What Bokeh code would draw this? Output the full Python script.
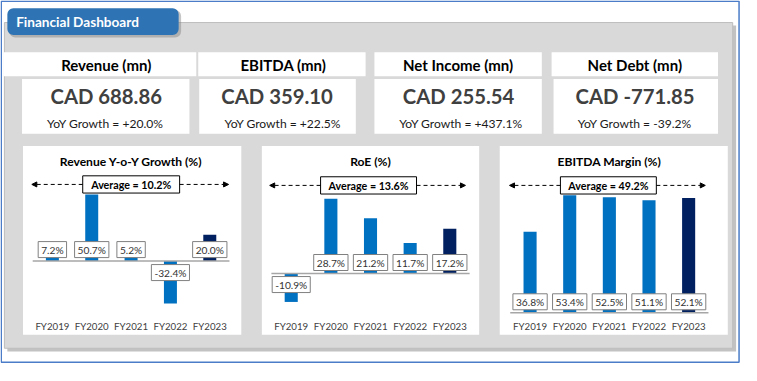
from bokeh.plotting import figure
from bokeh.models import Range1d, Arrow, NormalHead, ColumnDataSource
from bokeh.core.properties import value
from bokeh.embed import file_html
from bokeh.resources import INLINE

# ---------------- data ----------------
dashboard_title = "Financial Dashboard"
kpi_titles = ["Revenue (mn)", "EBITDA (mn)", "Net Income (mn)", "Net Debt (mn)"]
kpi_values = [688.86, 359.10, 255.54, -771.85]
kpi_growth = [20.0, 22.5, 437.1, -39.2]

years = ["FY2019", "FY2020", "FY2021", "FY2022", "FY2023"]
chart_titles = ["Revenue Y-o-Y Growth (%)", "RoE (%)", "EBITDA Margin (%)"]
revenue_growth = [7.2, 50.7, 5.2, -32.4, 20.0]
roe = [-10.9, 28.7, 21.2, 11.7, 17.2]
ebitda_margin = [36.8, 53.4, 52.5, 51.1, 52.1]
averages = [10.2, 13.6, 49.2]

# ---------------- layout (reference pixel space) ----------------
W_REF, H_REF = 757, 381
W, H = 741, 365
SX, SY = W / W_REF, H / H_REF
FS = (SX + SY) / 2
FONT = value("Lato")

def px(v):
    return f"{v * FS:.1f}px"

# KPI cards: header boxes, value boxes, text centres
hdr_l = [3, 202, 382, 563]
hdr_r = [200, 373, 553, 733]
val_l = [22, 203, 382, 565]
val_r = [193, 363, 553, 733]
hdr_tx = [108, 289, 467.5, 648]
val_tx = [108, 282.5, 468, 648.3]
yoy_tx = [107, 288.3, 470.3, 648]

# chart panels
pan_l = [23, 267, 510]
pan_r = [246, 489, 743]
pan_t, pan_b = 152, 349
title_cx = [133.5, 378, 622]
avg_l = [84, 327, 572]
avg_r = [183, 425, 670]
avg_y = [192, 193, 193]
arr_l = [32, 275, 520]
arr_r = [233, 475, 720]
zero_y = [272, 285, 326]
scale = [1.37, 2.72, 2.30]
cat_x0 = [53, 297, 541]
cat_dx = [40.2, 40.5, 40.5]
lab_off = [12, 11.5, 11.5]

BLUE, NAVY = "#0070C0", "#002060"

p = figure(width=W, height=H, x_range=Range1d(0, W_REF), y_range=Range1d(H_REF, 0),
           output_backend="svg", toolbar_location=None, min_border=0,
           x_axis_location=None, y_axis_location=None)
p.xgrid.visible = False
p.ygrid.visible = False
p.outline_line_color = None
p.background_fill_color = "white"
p.border_fill_color = "white"

# outer border
p.quad(left=[0.8], right=[754.5], top=[0.8], bottom=[377.7], fill_color=None,
       line_color="#4A7CC8", line_width=1.5)

# grey panel with shadow
p.quad(left=[7], right=[751.5], top=[26], bottom=[366.5], fill_color="#A8A8A8",
       fill_alpha=0.7, line_color=None)
p.quad(left=[4], right=[748], top=[23], bottom=[363], fill_color="#D9D9D9",
       line_color="#BDBDBD", line_width=1)

# title box
p.quad(left=[9], right=[184.5], top=[10], bottom=[38.5], fill_color="#7F7F7F",
       fill_alpha=0.45, line_color=None, border_radius=6)
p.quad(left=[7], right=[182], top=[8], bottom=[36], fill_color="#2E74B5",
       line_color=None, border_radius=6)
p.text(x=[16], y=[22.5], text=[dashboard_title], text_font=FONT, text_font_style="bold",
       text_font_size=px(14), text_color="white", text_align="left", text_baseline="middle")

# KPI cards
p.quad(left=hdr_l, right=hdr_r, top=54, bottom=79, fill_color="white", line_color=None)
p.quad(left=val_l, right=val_r, top=82, bottom=139, fill_color="white", line_color=None)
p.text(x=hdr_tx, y=67, text=kpi_titles, text_font=FONT, text_font_style="bold",
       text_font_size=px(15.5), text_color="black", text_align="center", text_baseline="middle")
p.text(x=val_tx, y=100, text=[f"CAD {v:.2f}" for v in kpi_values], text_font=FONT,
       text_font_style="bold", text_font_size=px(21), text_color="#404040",
       text_align="center", text_baseline="middle")
p.text(x=yoy_tx, y=128, text=[f"YoY Growth = {g:+.1f}%" for g in kpi_growth], text_font=FONT,
       text_font_size=px(12.5), text_color="#1A1A1A", text_align="center", text_baseline="middle")

# chart panels
p.quad(left=pan_l, right=pan_r, top=pan_t, bottom=pan_b, fill_color="white", line_color=None)
p.text(x=title_cx, y=168, text=chart_titles, text_font=FONT, text_font_style="bold",
       text_font_size=px(12.5), text_color="black", text_align="center", text_baseline="middle")

series = [revenue_growth, roe, ebitda_margin]
for k, vals in enumerate(series):
    xr, yr = f"x{k}", f"y{k}"
    p.extra_x_ranges[xr] = Range1d(-cat_x0[k] / cat_dx[k], (W_REF - cat_x0[k]) / cat_dx[k])
    p.extra_y_ranges[yr] = Range1d((zero_y[k] - H_REF) / scale[k], zero_y[k] / scale[k])
    n = len(vals)
    src = ColumnDataSource(dict(
        x=list(range(n)),
        top=vals,
        cat=years,
        color=[NAVY if i == n - 1 else BLUE for i in range(n)],
        label=[f"{v:.1f}%" for v in vals],
        off=[(-lab_off[k] if v >= 0 else lab_off[k]) * SY for v in vals],
    ))
    p.vbar(x="x", top="top", bottom=0, width=0.33, fill_color="color", line_color=None,
           source=src, x_range_name=xr, y_range_name=yr)
    p.segment(x0=[-0.5], x1=[n - 0.5], y0=[0], y1=[0], line_color="#A6A6A6", line_width=1.5,
              x_range_name=xr, y_range_name=yr)
    p.text(x="x", y=0, y_offset="off", text="label", source=src, text_font=FONT,
           text_font_size=px(10.5), text_color="#333333", text_align="center",
           text_baseline="middle", background_fill_color="white",
           border_line_color="#808080", border_line_width=1, padding=(3, 2),
           x_range_name=xr, y_range_name=yr)
    p.text(x="x", y=340, text="cat", source=src, text_font=FONT, text_font_size=px(10),
           text_color="#404040", text_align="center", text_baseline="middle",
           x_range_name=xr)

    # average box with arrows
    p.add_layout(Arrow(end=NormalHead(size=5, fill_color="black", line_color="black"),
                       x_start=avg_l[k], y_start=avg_y[k], x_end=arr_l[k], y_end=avg_y[k],
                       line_dash="4 3", line_width=1, line_color="black"))
    p.add_layout(Arrow(end=NormalHead(size=5, fill_color="black", line_color="black"),
                       x_start=avg_r[k], y_start=avg_y[k], x_end=arr_r[k], y_end=avg_y[k],
                       line_dash="4 3", line_width=1, line_color="black"))

p.quad(left=avg_l, right=avg_r, top=[y - 9 for y in avg_y], bottom=[y + 9 for y in avg_y],
       fill_color="white", line_color="black", line_width=1)
p.text(x=[(a + b) / 2 for a, b in zip(avg_l, avg_r)], y=avg_y,
       text=[f"Average = {a:.1f}%" for a in averages], text_font=FONT, text_font_style="bold",
       text_font_size=px(11), text_color="black", text_align="center", text_baseline="middle")

open("out.html", "w").write(file_html(p, INLINE))
